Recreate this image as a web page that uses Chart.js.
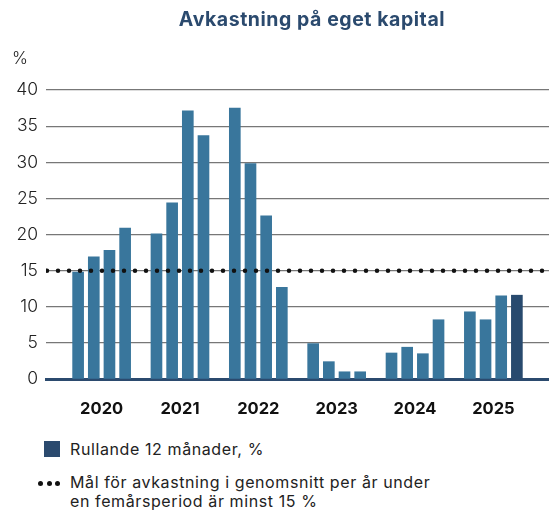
<!DOCTYPE html>
<html>
<head>
<meta charset="utf-8">
<script src="https://cdn.jsdelivr.net/npm/chart.js@4.4.1/dist/chart.umd.min.js"></script>
<style>
	body { margin: 0; background: #fff; font-family: Inter, "Noto Sans", sans-serif; color: #222; }
	#wrap { position: relative; width: 549px; height: 510px; overflow: hidden; }
	#canvas { position: absolute; left: 0; top: 0; }
	.title { position: absolute; left: 100px; width: 424px; top: 7px; text-align: center; font-weight: 700; font-size: 19.5px; letter-spacing: 0.55px; color: #2b4a6e; }
	.unit { position: absolute; left: 12px; top: 48px; font-size: 17px; font-weight: 300; }
	.leg { position: absolute; left: 70px; font-size: 16px; letter-spacing: 0.6px; line-height: 19px; color: #222; }
	.box { position: absolute; left: 44px; top: 441px; width: 16px; height: 16px; background: #2b4a6e; }
	.dot { position: absolute; top: 481px; width: 5px; height: 5px; border-radius: 50%; background: #111; }
</style>
</head>
<body>
<div id="wrap">
	<canvas id="canvas" width="549" height="420"></canvas>
	<div class="title">Avkastning på eget kapital</div>
	<div class="unit">%</div>
	<div class="box"></div>
	<div class="leg" style="top:440px">Rullande 12 månader, %</div>
	<div class="dot" style="left:38px"></div>
	<div class="dot" style="left:46.5px"></div>
	<div class="dot" style="left:55px"></div>
	<div class="leg" style="top:473px">Mål för avkastning i genomsnitt per år under<br>en femårsperiod är minst 15 %</div>
</div>
<script>
var years = ['2020', '2021', '2022', '2023', '2024', '2025'];
var q2020 = [14.8, 16.9, 17.8, 20.9];
var q2021 = [20.1, 24.4, 37.1, 33.7];
var q2022 = [37.5, 29.8, 22.6, 12.7];
var q2023 = [4.9, 2.4, 1.0, 1.0];
var q2024 = [3.6, 4.4, 3.5, 8.2];
var q2025 = [9.3, 8.2, 11.5, 11.6];
var goal = 15;
var yTicks = [0, 5, 10, 15, 20, 25, 30, 35, 40];

var xMin = -2.05, xMax = 30.05;
var barColor = '#39769c';
var lastColor = '#284a6e';

// each year takes 4 slots plus one empty slot
var barData = [];
[q2020, q2021, q2022, q2023, q2024, q2025].forEach(function(q, i) {
	q.forEach(function(v, j) {
		barData.push({ x: i * 5 + j, y: v });
	});
});

var ctx = document.getElementById('canvas').getContext('2d');

var config = {
	type: 'bar',
	data: {
		datasets: [{
			type: 'line',
			label: 'Mål',
			data: [{ x: xMin, y: goal }, { x: xMax, y: goal }],
			borderColor: '#111',
			borderWidth: 4.5,
			borderDash: [0, 11],
			borderDashOffset: 10,
			borderCapStyle: 'round',
			pointRadius: 0,
			fill: false,
			order: 0
		}, {
			label: 'Rullande 12 månader, %',
			data: barData,
			backgroundColor: function(c) {
				return c.dataIndex === barData.length - 1 ? lastColor : barColor;
			},
			barThickness: 11,
			order: 1
		}]
	},
	options: {
		responsive: false,
		animation: false,
		layout: { padding: { top: 90, right: 0, left: 0, bottom: 0 } },
		plugins: {
			legend: { display: false },
			tooltip: { enabled: false }
		},
		scales: {
			x: {
				type: 'linear',
				min: xMin,
				max: xMax,
				offset: false,
				afterBuildTicks: function(scale) {
					scale.ticks = years.map(function(y, i) { return { value: i * 5 + 1.5 }; });
				},
				afterFit: function(scale) { scale.height = 41; },
				grid: { display: false, drawTicks: false },
				border: { display: true, color: '#2b4a6e', width: 3 },
				ticks: {
					autoSkip: false,
					maxRotation: 0,
					padding: 20,
					color: '#111',
					font: { family: 'Inter', size: 16.5, weight: 'bold' },
					callback: function(value, index) { return years[index]; }
				}
			},
			y: {
				min: 0,
				max: 40,
				afterBuildTicks: function(scale) {
					scale.ticks = yTicks.map(function(v) { return { value: v }; });
				},
				afterFit: function(scale) { scale.width = 46; },
				grid: {
					drawTicks: false,
					color: function(c) { return c.tick.value === 0 ? 'rgba(0,0,0,0)' : '#777'; },
					lineWidth: 1.2
				},
				border: { display: false },
				ticks: {
					padding: 8,
					color: '#222',
					font: { family: 'Inter', size: 17.5, weight: 300 }
				}
			}
		}
	}
};

var mychart = new Chart(ctx, config);
</script>
</body>
</html>
